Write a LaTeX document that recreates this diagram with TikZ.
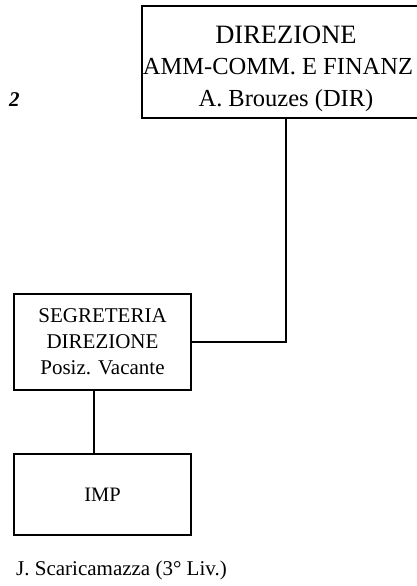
\documentclass[tikz,border=0pt]{standalone}
\usepackage{fontspec}
\setmainfont{Liberation Serif}
\tikzset{
  unitbox/.style={draw, line width=1.1pt, rectangle, align=center, inner sep=0pt},
  link/.style={line width=1.1pt}
}
\begin{document}
\begin{tikzpicture}[x=1pt, y=-1pt]
        \clip (0,0) rectangle (417,586);
        \useasboundingbox (0,0) rectangle (417,586);

        % Boxes (units)
        \node[unitbox, minimum width=288pt, minimum height=112pt, font=\fontsize{24.5}{31.5}\selectfont] (dir) at (286, 62) {\rule{0pt}{31pt}{\fontsize{26.5}{31.5}\selectfont DIREZIONE}\\\hspace*{-16pt}AMM-COMM. E FINANZ\\A. Brouzes (DIR)};
        \node[unitbox, minimum width=177pt, minimum height=96pt, font=\fontsize{21}{26}\selectfont] (segr) at (102.5, 342) {SEGRETERIA\\DIREZIONE\\Posiz. Vacante};
        \node[unitbox, minimum width=177pt, minimum height=81pt, font=\fontsize{20.5}{26}\selectfont] (imp) at (102.5, 494.5) {IMP};

        % Connectors
        \draw[link] (dir.south) |- (segr.east);
        \draw[link] ([xshift=-8.5pt]segr.south) -- ([xshift=-8.5pt]imp.north);

        % Side texts
        \node[anchor=west, inner sep=0pt, font=\fontsize{21}{24}\selectfont\bfseries\itshape] (num) at (9, 100) {2};
        \node[anchor=west, inner sep=0pt, font=\fontsize{21}{24}\selectfont] (resp) at (16, 570) {J. Scaricamazza (3° Liv.)};
    \end{tikzpicture}
\end{document}
